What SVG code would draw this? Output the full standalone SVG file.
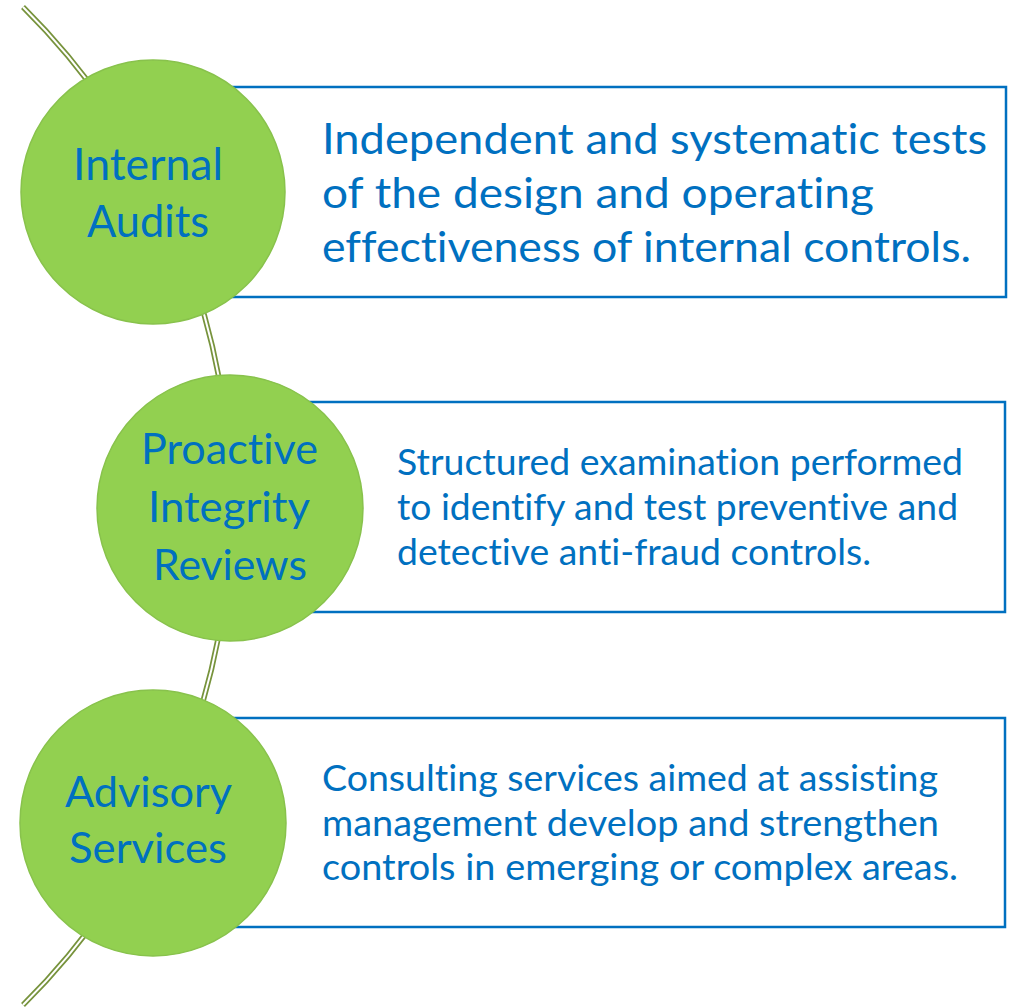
<svg xmlns="http://www.w3.org/2000/svg" width="1012" height="1007" viewBox="0 0 1012 1007">
<style>
.box{fill:#ffffff;stroke:#0070C0;stroke-width:2.5}
.node{fill:#92D050;stroke:#88C24C;stroke-width:1.5}
.lbl{font-family:Lato,"Open Sans",sans-serif;fill:#0070C0;text-anchor:middle;font-variant-ligatures:none;font-feature-settings:"liga" 0,"clig" 0,"dlig" 0}
.desc{font-family:Lato,"Open Sans",sans-serif;fill:#0070C0;font-variant-ligatures:none;font-feature-settings:"liga" 0,"clig" 0,"dlig" 0}
.arcO{fill:none;stroke:#77933C;stroke-width:5.5}
.arcI{fill:none;stroke:#ffffff;stroke-width:2}
</style>
<rect width="1012" height="1007" fill="#ffffff"/>
<g id="connectors">
<path class="arcO" d="M 23 7 A 703.6 703.6 0 0 1 23 1005"/>
<path class="arcI" d="M 23 7 A 703.6 703.6 0 0 1 23 1005"/>
</g>
<g id="node-internal-audits">
<rect class="box" x="153" y="87" width="853" height="210"/>
<circle class="node" cx="153" cy="192" r="132"/>
<text class="lbl" font-size="44"><tspan x="148" y="180" textLength="150" lengthAdjust="spacingAndGlyphs">Internal</tspan><tspan x="148" y="237" textLength="122" lengthAdjust="spacingAndGlyphs">Audits</tspan></text>
<text class="desc" font-size="43"><tspan x="322" y="154" textLength="665" lengthAdjust="spacingAndGlyphs">Independent and systematic tests</tspan><tspan x="322" y="208" textLength="552" lengthAdjust="spacingAndGlyphs">of the design and operating</tspan><tspan x="322" y="262" textLength="649" lengthAdjust="spacingAndGlyphs">effectiveness of internal controls.</tspan></text>
</g>
<g id="node-proactive-integrity-reviews">
<rect class="box" x="230" y="402" width="775" height="210"/>
<circle class="node" cx="230" cy="508" r="133"/>
<text class="lbl" font-size="42"><tspan x="229.5" y="464" textLength="177" lengthAdjust="spacingAndGlyphs">Proactive</tspan><tspan x="229" y="522" textLength="162" lengthAdjust="spacingAndGlyphs">Integrity</tspan><tspan x="230" y="580" textLength="154" lengthAdjust="spacingAndGlyphs">Reviews</tspan></text>
<text class="desc" font-size="37"><tspan x="397" y="475" textLength="566" lengthAdjust="spacingAndGlyphs">Structured examination performed</tspan><tspan x="397" y="520" textLength="561" lengthAdjust="spacingAndGlyphs">to identify and test preventive and</tspan><tspan x="397" y="565" textLength="474" lengthAdjust="spacingAndGlyphs">detective anti-fraud controls.</tspan></text>
</g>
<g id="node-advisory-services">
<rect class="box" x="153" y="718" width="852" height="209"/>
<circle class="node" cx="153" cy="823" r="133"/>
<text class="lbl" font-size="43"><tspan x="148.5" y="807" textLength="167" lengthAdjust="spacingAndGlyphs">Advisory</tspan><tspan x="148" y="863" textLength="158" lengthAdjust="spacingAndGlyphs">Services</tspan></text>
<text class="desc" font-size="37"><tspan x="322" y="791" textLength="616" lengthAdjust="spacingAndGlyphs">Consulting services aimed at assisting</tspan><tspan x="322" y="836" textLength="617" lengthAdjust="spacingAndGlyphs">management develop and strengthen</tspan><tspan x="322" y="880" textLength="636" lengthAdjust="spacingAndGlyphs">controls in emerging or complex areas.</tspan></text>
</g>
</svg>
